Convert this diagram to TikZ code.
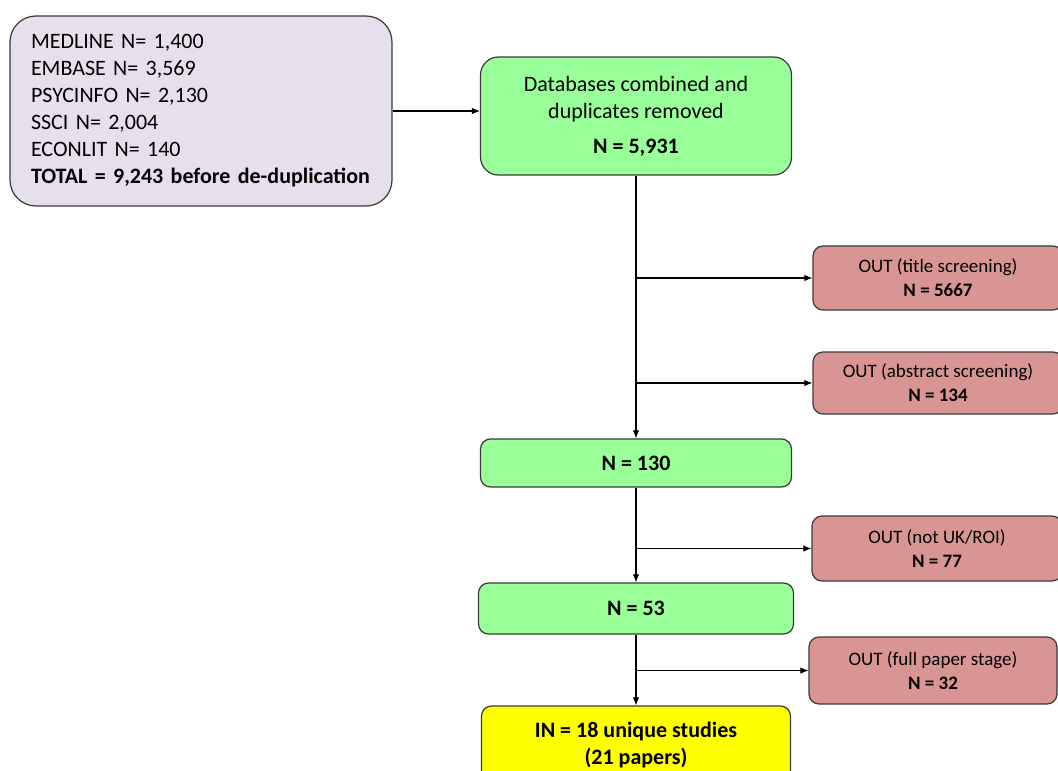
\documentclass[tikz,border=0pt]{standalone}
\usepackage{fontspec}
\setmainfont{Carlito}
\usepackage{xcolor}
\usetikzlibrary{arrows.meta}

\definecolor{srcfill}{HTML}{E6E0EC}
\definecolor{keepfill}{HTML}{99FF99}
\definecolor{outfill}{HTML}{D99594}
\definecolor{infill}{HTML}{FFFF00}
\definecolor{edge}{HTML}{3A3A3A}

\begin{document}
\begin{tikzpicture}[x=1pt, y=-1pt, >={Latex[length=8pt,width=6.5pt]},
    box/.style={draw=edge, line width=1.2pt, rounded corners=10pt, align=center,
        font=\fontsize{22}{27}\selectfont},
    keep/.style={box, fill=keepfill},
    outbox/.style={box, fill=outfill, minimum width=250pt,
        font=\fontsize{19}{24}\selectfont},
    flow/.style={->, draw=black, line width=1.1pt}]
    \useasboundingbox (0,0) rectangle (1058,771);
    \clip (0,0) rectangle (1058,771);
    \node (src) [box, fill=srcfill, rounded corners=26pt, align=left, text width=340pt,
        minimum width=382pt, minimum height=190pt] at (201,111)
        {MEDLINE N= 1,400\\ EMBASE N= 3,569\\ PSYCINFO N= 2,130\\ SSCI N= 2,004\\
         ECONLIT N= 140\\ \textbf{TOTAL = 9,243 before de-duplication}};
    \node (comb) [keep, rounded corners=18pt, minimum width=311pt, minimum height=118pt]
        at (636,116) {Databases combined and\\ duplicates removed\\[8pt] \textbf{N = 5,931}};
    \node (out1) [outbox, minimum height=64pt] at (938,278)
        {OUT (title screening)\\ \textbf{N = 5667}};
    \node (out2) [outbox, minimum height=62pt] at (938,383)
        {OUT (abstract screening)\\ \textbf{N = 134}};
    \node (n130) [keep, minimum width=311pt, minimum height=48pt] at (636,463)
        {\textbf{N = 130}};
    \node (out3) [outbox, minimum height=65pt] at (937,548.5)
        {OUT (not UK/ROI)\\ \textbf{N = 77}};
    \node (n53) [keep, minimum width=315pt, minimum height=51pt] at (636,608.5)
        {\textbf{N = 53}};
    \node (out4) [outbox, minimum width=248pt, minimum height=67pt] at (933,670.5)
        {OUT (full paper stage)\\ \textbf{N = 32}};
    \node (in) [box, fill=infill, minimum width=309pt, minimum height=78pt] at (636,745)
        {\textbf{IN = 18 unique studies}\\ \textbf{(21 papers)}};

    \draw[flow] (src.east) to (src.east -| comb.west);
    \draw[flow] (comb.south) to (n130.north);
    \draw[flow] (comb.south |- out1.west) to (out1.west);
    \draw[flow] (comb.south |- out2.west) to (out2.west);
    \draw[flow] (n130.south) to (n53.north);
    \draw[flow] (n130.south |- out3.west) to (out3.west);
    \draw[flow] (n53.south) to (in.north);
    \draw[flow] (n53.south |- out4.west) to (out4.west);
\end{tikzpicture}
\end{document}
